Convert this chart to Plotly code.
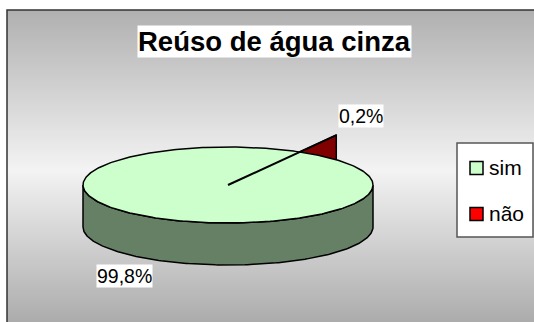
import numpy as np
import plotly.graph_objects as go

# ---- data ----
title = "Reúso de água cinza"
labels = ["sim", "não"]
values = [99.8, 0.2]
top_colors = ["#CCFFCC", "#FF0000"]
side_colors = ["#668066", "#800000"]

W, H = 534, 322
FONT = "Arial, Liberation Sans, sans-serif"

# pie geometry (pixel space)
cx, cy, rx, ry, depth = 228.0, 185.0, 145.0, 38.0, 42.0
rotation = 30.0      # degrees clockwise from 12 o'clock where the first slice starts
explode = 1.51       # radial extension of the small slice

fig = go.Figure()

# chart-area background: vertical grey gradient
edges_y = np.arange(10, 324, 2.0)
mid_y = (edges_y[:-1] + edges_y[1:]) / 2
grey = np.interp(mid_y, [10, 170, 322], [176, 243, 172])
fig.add_trace(go.Heatmap(
    x=[7, 540], y=edges_y, z=grey.reshape(-1, 1),
    colorscale=[[0, "rgb(0,0,0)"], [1, "rgb(255,255,255)"]],
    zmin=0, zmax=255, showscale=False, hoverinfo="skip",
))

# slice angles (clockwise from 12 o'clock)
total = sum(values)
starts, ends = [], []
a = rotation
for v in values:
    starts.append(a)
    a += 360.0 * v / total
    ends.append(a)

# small slice: drawn behind the top face, pulled outwards
mid = np.radians((starts[1] + ends[1]) / 2)
tip_x = cx + explode * rx * np.sin(mid)
tip_y = cy - explode * ry * np.cos(mid)
low_y = cy - ry * np.sqrt(max(0.0, 1 - ((tip_x - cx) / rx) ** 2))
fig.add_trace(go.Scatter(
    x=[cx, tip_x, tip_x, cx], y=[cy, tip_y, low_y, cy],
    mode="lines", fill="toself", fillcolor=side_colors[1],
    line=dict(color="black", width=1.5), hoverinfo="skip", showlegend=False,
))

# front side wall of the big slice
t = np.linspace(0, np.pi, 200)
sx = np.concatenate([cx + rx * np.cos(t), (cx + rx * np.cos(t))[::-1]])
sy = np.concatenate([cy + ry * np.sin(t), (cy + depth + ry * np.sin(t))[::-1]])
fig.add_trace(go.Scatter(
    x=np.append(sx, sx[0]), y=np.append(sy, sy[0]),
    mode="lines", fill="toself", fillcolor=side_colors[0],
    line=dict(color="black", width=1.5), hoverinfo="skip", showlegend=False,
))

# top face
tt = np.linspace(0, 2 * np.pi, 400)
fig.add_trace(go.Scatter(
    x=cx + rx * np.cos(tt), y=cy + ry * np.sin(tt),
    mode="lines", fill="toself", fillcolor=top_colors[0],
    line=dict(color="black", width=1.5), hoverinfo="skip", showlegend=False,
))

# slice edge from the centre to the pulled-out tip
fig.add_trace(go.Scatter(
    x=[cx, tip_x], y=[cy, tip_y], mode="lines",
    line=dict(color="black", width=2), hoverinfo="skip", showlegend=False,
))

shapes = [
    dict(type="rect", x0=7, y0=10, x1=545, y1=335,
         line=dict(color="#333333", width=1.5), layer="above"),
    dict(type="rect", x0=457, y0=143, x1=533, y1=237,
         fillcolor="white", line=dict(color="#555555", width=1.5)),
]

def pct(v):
    return f"{v:.1f}%".replace(".", ",")

annotations = [
    dict(x=274, y=41, text=f"<b>{title}</b>", showarrow=False,
         font=dict(family=FONT, size=27.5, color="black"),
         bgcolor="white", borderpad=0),
]

# data labels
label_pos = [(124, 276), (361, 116)]
for v, (lx, ly) in zip(values, label_pos):
    annotations.append(dict(
        x=lx, y=ly, text=pct(v), showarrow=False,
        font=dict(family=FONT, size=19.5, color="black"),
        bgcolor="white", borderpad=0,
    ))

# legend
for i, (lab, col) in enumerate(zip(labels, top_colors)):
    yc = 168 + i * 46
    shapes.append(dict(type="rect", x0=470, y0=yc - 6.5, x1=483, y1=yc + 6.5,
                       fillcolor=col, line=dict(color="black", width=1.5)))
    annotations.append(dict(
        x=487, y=yc - 1, text=lab, showarrow=False, xanchor="left",
        font=dict(family=FONT, size=21, color="black"),
    ))

fig.update_layout(
    width=W, height=H, margin=dict(l=0, r=0, t=0, b=0),
    paper_bgcolor="white", plot_bgcolor="white",
    xaxis=dict(range=[0, W], visible=False, fixedrange=True),
    yaxis=dict(range=[H, 0], visible=False, fixedrange=True),
    shapes=shapes, annotations=annotations, showlegend=False,
)

fig.write_html("out.html", config={"displayModeBar": False})
